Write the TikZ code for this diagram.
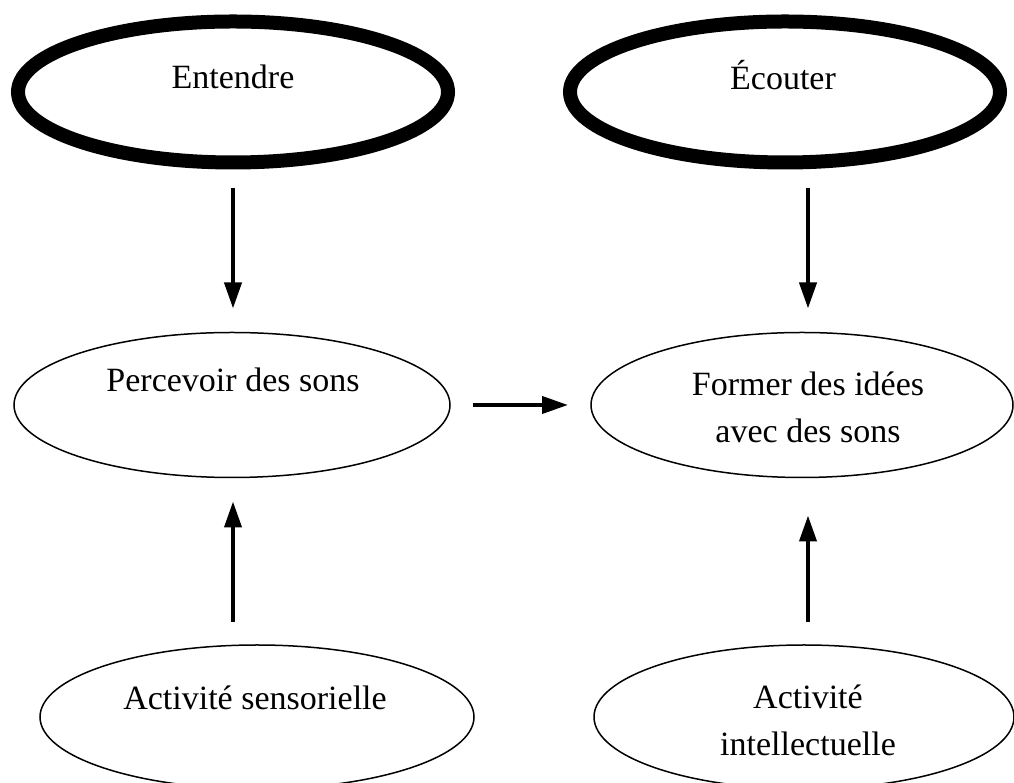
\documentclass[tikz,border=0pt]{standalone}
\usepackage{fontspec}
\setmainfont{Liberation Serif}
\usetikzlibrary{shapes.geometric,arrows.meta}
\begin{document}
\begin{tikzpicture}[x=1pt,y=1pt,
  thickell/.style={ellipse,draw,line width=14pt,inner sep=0pt,outer sep=0pt},
  thinell/.style={ellipse,draw,line width=1.5pt,inner sep=0pt,outer sep=0pt},
  lbl/.style={inner sep=0pt,align=center,font=\fontsize{34}{47}\selectfont},
  arr/.style={line width=4pt,-{Triangle[length=26pt,width=17pt]}}]
\useasboundingbox (0,0) rectangle (1014,783);
% ellipses
\node[thickell,minimum width=430pt,minimum height=141pt] (ent) at (233,691) {};
\node[thickell,minimum width=430pt,minimum height=141pt] (eco) at (785,691) {};
\node[thinell,minimum width=436pt,minimum height=145pt] (perc) at (232,378) {};
\node[thinell,minimum width=422pt,minimum height=145pt] (form) at (802,378) {};
\node[thinell,minimum width=434pt,minimum height=144pt] (sens) at (257,66) {};
\node[thinell,minimum width=420pt,minimum height=144pt] (intel) at (804,66) {};
% texts
\node[lbl] (tent) at (233,706) {Entendre};
\node[lbl] (teco) at (783,708) {Écouter};
\node[lbl] (tperc) at (233,403) {Percevoir des sons};
\node[lbl] (tform) at (808,376) {Former des idées\\avec des sons};
\node[lbl] (tsens) at (255,85) {Activité sensorielle};
\node[lbl] (tintel) at (808,63) {Activité\\intellectuelle};
% connectors
\draw[arr] ([yshift=-26pt]ent.south) -- ([yshift=24pt]ent.south |- perc.north);
\draw[arr] ([yshift=-26pt]eco.south -| tform) -- ([yshift=24pt]form.north -| tform);
\draw[arr] ([xshift=23pt]perc.east) -- ([xshift=-23pt]form.west);
\draw[arr] ([yshift=23pt]sens.north -| ent.south) -- ([yshift=-24pt]perc.south -| ent.south);
\draw[arr] ([yshift=23pt]intel.north -| tform) -- ([yshift=-38pt]form.south -| tform);
\end{tikzpicture}
\end{document}
